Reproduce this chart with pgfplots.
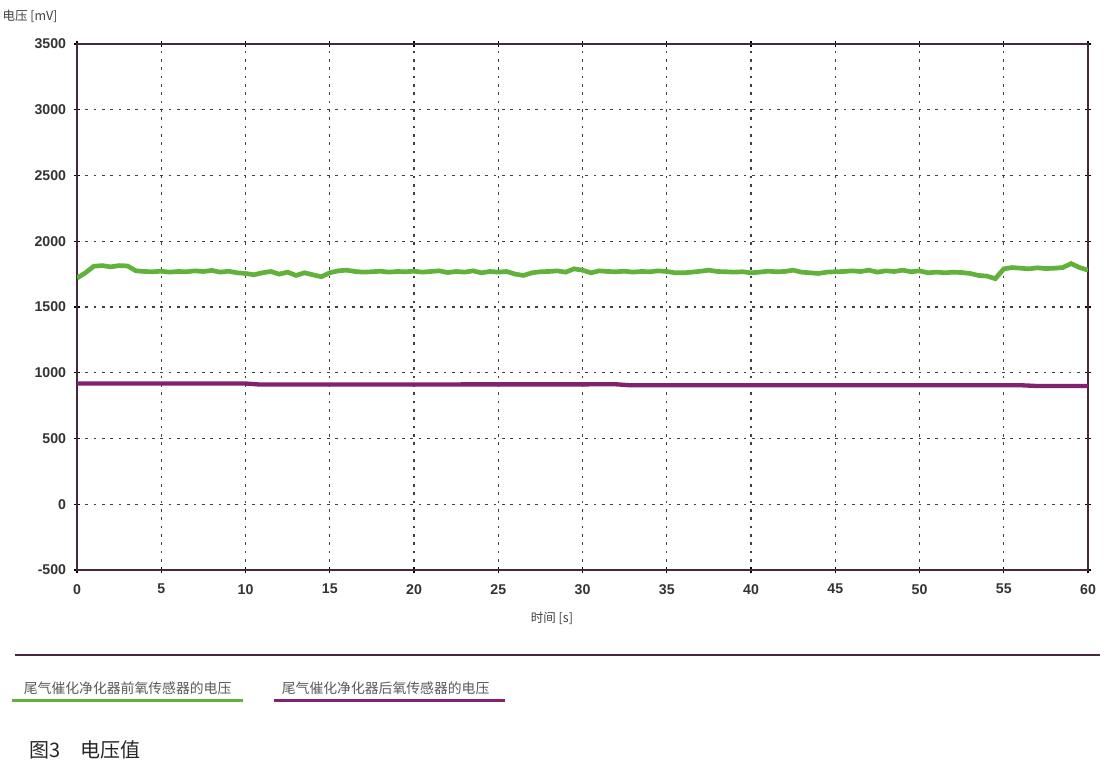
\documentclass[border=0pt]{standalone}
\usepackage{pgfplots}
\pgfplotsset{compat=1.18}
\usepackage{fontspec}
\setmainfont{Liberation Sans}
\newfontfamily\cjk{Noto Sans CJK SC}
\definecolor{grn}{RGB}{96,178,58}
\definecolor{pur}{RGB}{128,34,112}
\definecolor{frm}{RGB}{70,40,60}
\newcommand{\U}{0.6pt}
\begin{document}
\begin{tikzpicture}
\useasboundingbox (0,0) rectangle ({1112*\U},{777*\U});
\begin{axis}[
  at={({77*\U},{(777-570)*\U})}, anchor=south west,
  scale only axis, width={1011*\U}, height={526*\U},
  xmin=0, xmax=60, ymin=-500, ymax=3500,
  xtick={0,5,...,60}, ytick={-500,0,...,3500},
  grid=major,
  major grid style={black!75, line width=0.8pt, dash pattern=on 1.6pt off 3.4pt},
  axis line style={frm, line width=0.9pt},
  tick style={black, line width=0.7pt},
  major tick length=4pt,
  tick align=center,
  ticklabel style={font=\fontsize{8.5}{9}\selectfont\bfseries, text=black!80},
  /pgf/number format/assume math mode=true,
  /pgf/number format/1000 sep={},
  yticklabel style={xshift=-1pt},
  xticklabel style={yshift=-3pt},
]
\addplot[pur, line width=2.6pt] coordinates {
(0,918)(5,918)(10,918)(10.8,911)(20,911)(32,912)(32.8,905)(45,905)(56,905)(57,899)(60,899)};
\addplot[grn, line width=2.8pt] coordinates {
(0,1720)(0.5,1760)(1,1810)(1.5,1815)(2,1805)(2.5,1815)(3,1812)(3.5,1775)(4,1770)(4.5,1768)
(5,1772)(5.5,1765)(6,1770)(6.5,1768)(7,1775)(7.5,1770)(8,1778)(8.5,1765)(9,1772)(9.5,1760)
(10,1755)(10.5,1745)(11,1760)(11.5,1770)(12,1750)(12.5,1765)(13,1740)(13.5,1760)(14,1745)(14.5,1730)
(15,1760)(15.5,1775)(16,1780)(16.5,1770)(17,1765)(17.5,1768)(18,1772)(18.5,1765)(19,1770)(19.5,1768)
(20,1772)(20.5,1765)(21,1770)(21.5,1775)(22,1762)(22.5,1770)(23,1765)(23.5,1775)(24,1760)(24.5,1770)
(25,1765)(25.5,1770)(26,1750)(26.5,1740)(27,1760)(27.5,1768)(28,1770)(28.5,1775)(29,1765)(29.5,1790)
(30,1780)(30.5,1760)(31,1775)(31.5,1770)(32,1768)(32.5,1772)(33,1765)(33.5,1770)(34,1768)(34.5,1775)
(35,1770)(35.5,1760)(36,1760)(36.5,1765)(37,1772)(37.5,1780)(38,1770)(38.5,1768)(39,1765)(39.5,1768)
(40,1760)(40.5,1765)(41,1772)(41.5,1768)(42,1770)(42.5,1780)(43,1765)(43.5,1760)(44,1755)(44.5,1765)
(45,1768)(45.5,1770)(46,1775)(46.5,1770)(47,1780)(47.5,1765)(48,1775)(48.5,1770)(49,1780)(49.5,1768)
(50,1775)(50.5,1760)(51,1765)(51.5,1760)(52,1765)(52.5,1762)(53,1755)(53.5,1740)(54,1735)(54.5,1715)
(55,1790)(55.5,1800)(56,1795)(56.5,1790)(57,1798)(57.5,1792)(58,1795)(58.5,1800)(59,1830)(59.5,1800)
(60,1780)};
\end{axis}
% axis labels
\node[font=\cjk\fontsize{7.5}{8}\selectfont, text=black!75] at ({30*\U},{(777-16)*\U}) {电压 [mV]};
\node[font=\cjk\fontsize{7.5}{8}\selectfont, text=black!75] at ({552*\U},{(777-618)*\U}) {时间 [s]};
% separator
\draw[frm, line width=1pt] ({15*\U},{(777-655)*\U}) -- ({1100*\U},{(777-655)*\U});
% legend
\node[font=\cjk\fontsize{8.3}{9}\selectfont, text=black!65, anchor=west] at ({18*\U},{(777-688)*\U}) {尾气催化净化器前氧传感器的电压};
\draw[grn, line width=1.8pt] ({12*\U},{(777-701)*\U}) -- ({243*\U},{(777-701)*\U});
\node[font=\cjk\fontsize{8.3}{9}\selectfont, text=black!65, anchor=west] at ({276*\U},{(777-688)*\U}) {尾气催化净化器后氧传感器的电压};
\draw[pur, line width=1.8pt] ({274*\U},{(777-701)*\U}) -- ({505*\U},{(777-701)*\U});
% caption
\node[font=\cjk\fontsize{12}{13}\selectfont, text=black!85, anchor=west] at ({24*\U},{(777-750)*\U}) {图3\hspace{1em}电压值};
\end{tikzpicture}
\end{document}
